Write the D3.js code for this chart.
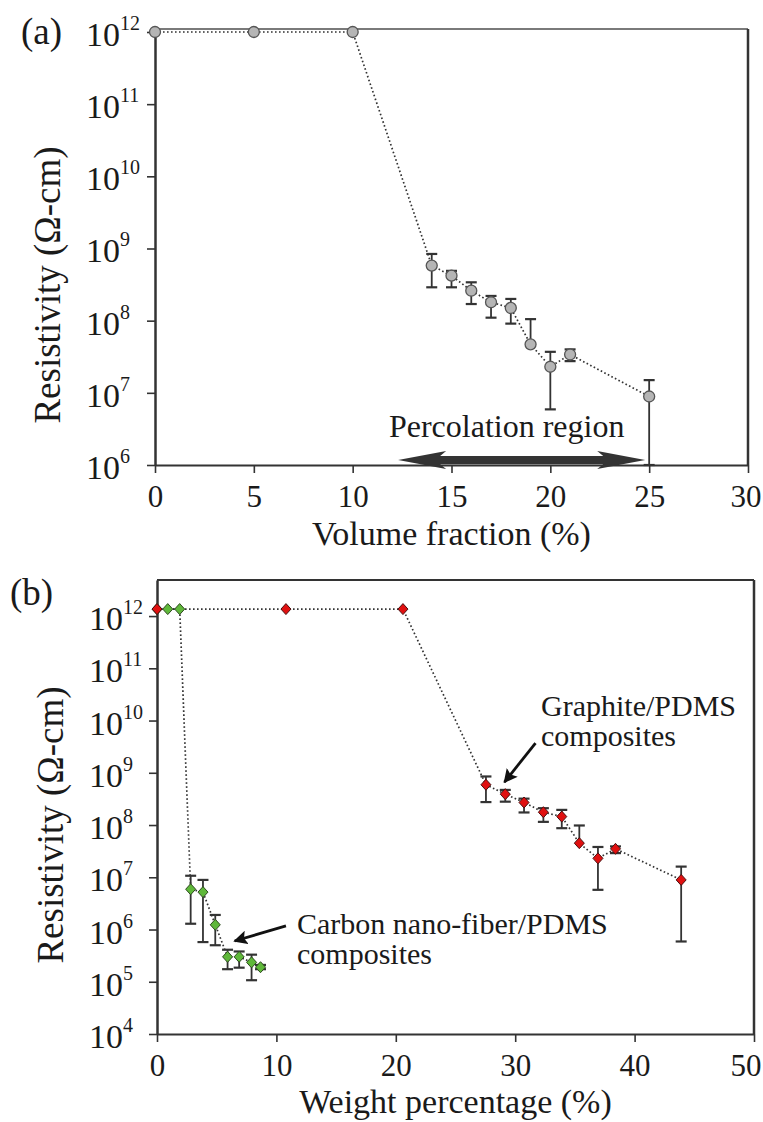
<!DOCTYPE html>
<html><head><meta charset="utf-8">
<script src="https://cdn.jsdelivr.net/npm/d3@7"></script>
<style>
body{margin:0;background:#fff}
svg{display:block}
text{font-family:"Liberation Serif","Times New Roman",serif;fill:#1a1a1a}
</style>
</head><body>
<svg id="c" width="763" height="1122"></svg>
<script>
// ---------- Panel (a): volume fraction ----------
const volFrac   = [0, 5, 10, 14, 15, 16, 17, 18, 19, 20, 21, 25];
const volRes    = [1e12, 1e12, 1e12, 5.8e8, 4.2e8, 2.6e8, 1.8e8, 1.5e8, 4.7e7, 2.3e7, 3.4e7, 8.9e6];
const volErrHi  = [null, null, null, 8.4e8, 4.9e8, 3.4e8, 2.2e8, 2.0e8, 1.05e8, 3.7e7, 4.0e7, 1.5e7];
const volErrLo  = [null, null, null, 2.9e8, 2.9e8, 1.7e8, 1.1e8, 9.1e7, null, 5.9e6, 2.75e7, 1e6];
const volXTicks = [0, 5, 10, 15, 20, 25, 30];
const volYTicks = [6, 7, 8, 9, 10, 11, 12];

// ---------- Panel (b): weight percentage ----------
const grWt     = [0, 10.8, 20.6, 27.55, 29.17, 30.74, 32.36, 33.9, 35.37, 36.93, 38.4, 43.9];
const grRes    = [1.36e12, 1.36e12, 1.36e12, 5.9e8, 3.9e8, 2.7e8, 1.76e8, 1.45e8, 4.5e7, 2.3e7, 3.5e7, 8.9e6];
const grErrHi  = [null, null, null, 8.5e8, 4.7e8, 3.2e8, 2.1e8, 1.95e8, 9.8e7, 3.8e7, 3.9e7, 1.6e7];
const grErrLo  = [null, null, null, 2.75e8, 2.8e8, 1.74e8, 1.15e8, 8.7e7, null, 5.75e6, 2.9e7, 5.9e5];

const cnfWt    = [0, 0.9, 1.9, 2.82, 3.85, 4.88, 5.91, 6.88, 7.92, 8.67];
const cnfRes   = [1.36e12, 1.36e12, 1.36e12, 5.9e6, 5.2e6, 1.23e6, 3.0e5, 3.0e5, 2.35e5, 1.9e5];
const cnfErrHi = [null, null, null, 1.07e7, 8.9e6, 1.9e6, 4.1e5, 3.8e5, 3.3e5, 2.1e5];
const cnfErrLo = [null, null, null, 1.29e6, 5.75e5, 5.0e5, 1.74e5, 1.86e5, 1.07e5, 1.74e5];

const wtXTicks = [0, 10, 20, 30, 40, 50];
const wtYTicks = [4, 5, 6, 7, 8, 9, 10, 11, 12];

const yTitle = "Resistivity (\u03A9-cm)";

const svg = d3.select("#c");
const FONT = '"Liberation Serif","Times New Roman",serif';
const W = 763;

function zip(xs, ys, hi, lo){ return xs.map((x,i)=>({x, y: ys[i], hi: hi[i], lo: lo[i]})); }

// custom diamond symbol
const diamond = { draw(ctx, size){ const r = Math.sqrt(size)/2; ctx.moveTo(0,-r*1.1); ctx.lineTo(r,0); ctx.lineTo(0,r*1.1); ctx.lineTo(-r,0); ctx.closePath(); } };

function drawPanel(cfg){
  const g = svg.append("g");
  const x = d3.scaleLinear().domain(cfg.xDomain).range(cfg.xRange);
  const y = d3.scaleLog().domain(cfg.yDomain).range(cfg.yRange);
  const [x0,x1] = cfg.xRange, [yb,yt] = cfg.yRange;

  // frame top & right
  g.append("line").attr("x1",x0).attr("x2",x1).attr("y1",yt).attr("y2",yt)
    .attr("stroke",cfg.topColor).attr("stroke-width",2);
  g.append("line").attr("x1",x1).attr("x2",x1).attr("y1",yt).attr("y2",yb)
    .attr("stroke","#333").attr("stroke-width",2.5);

  // x axis
  const xa = g.append("g").attr("transform",`translate(0,${yb})`)
    .call(d3.axisBottom(x).tickValues(cfg.xTicks).tickSize(8).tickSizeOuter(0).tickFormat(d3.format("d")));
  xa.select(".domain").attr("stroke","#333").attr("stroke-width",2);
  xa.selectAll(".tick line").attr("stroke","#333").attr("stroke-width",1.6);
  xa.selectAll(".tick text").attr("y",42).attr("dy",0).attr("font-size",31)
    .attr("font-family",FONT).attr("fill","#1a1a1a")
    .each(function(d){
      // keep the last label inside the picture
      const bb = this.getBBox(), px = x(d);
      if(px + bb.width/2 > W - 2) d3.select(this).attr("text-anchor","end").attr("x", W - 2 - px);
    });

  // y axis
  const ya = g.append("g").attr("transform",`translate(${x0},0)`)
    .call(d3.axisLeft(y).tickValues(cfg.yTicks.map(e=>Math.pow(10,e))).tickSize(8).tickSizeOuter(0).tickFormat(""));
  ya.select(".domain").attr("stroke","#333").attr("stroke-width",2.5);
  ya.selectAll(".tick line").attr("stroke","#333").attr("stroke-width",1.6);

  // y tick labels: 10^n
  cfg.yTicks.forEach(e=>{
    const t = g.append("text").attr("x",cfg.yLabelX).attr("y",y(Math.pow(10,e))+14)
      .attr("font-size",34);
    t.append("tspan").text("10");
    t.append("tspan").attr("dy",-16).attr("font-size",20).text(String(e));
  });

  // titles
  g.append("text").attr("x",(x0+x1)/2).attr("y",cfg.xTitleY).attr("text-anchor","middle")
    .attr("font-size",34).text(cfg.xTitle);
  g.append("text").attr("transform",`translate(${cfg.yTitleX},${cfg.yTitleC}) rotate(-90)`)
    .attr("text-anchor","middle").attr("font-size",37).text(yTitle);
  g.append("text").attr("x",cfg.tagX).attr("y",cfg.tagY).attr("font-size",37).text(cfg.tag);

  return {g,x,y};
}

function drawSeries(P, data){
  const {g,x,y} = P;
  const line = d3.line().x(d=>x(d.x)).y(d=>y(d.y));
  g.append("path").datum(data).attr("d",line).attr("fill","none")
    .attr("stroke","#333").attr("stroke-width",1.7).attr("stroke-dasharray","1.6 2.4");
}
function drawErr(P, data, cap){
  const {g,x,y} = P;
  const eg = g.append("g").attr("stroke","#333").attr("stroke-width",1.8);
  data.forEach(d=>{
    if(d.hi==null && d.lo==null) return;
    const top = d.hi!=null ? d.hi : d.y, bot = d.lo!=null ? d.lo : d.y;
    eg.append("line").attr("x1",x(d.x)).attr("x2",x(d.x)).attr("y1",y(top)).attr("y2",y(bot));
    if(d.hi!=null) eg.append("line").attr("x1",x(d.x)-cap).attr("x2",x(d.x)+cap).attr("y1",y(d.hi)).attr("y2",y(d.hi)).attr("stroke-width",2.2);
    if(d.lo!=null) eg.append("line").attr("x1",x(d.x)-cap).attr("x2",x(d.x)+cap).attr("y1",y(d.lo)).attr("y2",y(d.lo)).attr("stroke-width",2.2);
  });
}

// ----- Panel (a)
const A = drawPanel({
  xDomain:[0,30], xRange:[155,748], yDomain:[1e6,1.1e12], yRange:[465,29],
  xTicks:volXTicks, yTicks:volYTicks, topColor:"#7a7a7a",
  yLabelX:86, xTitle:"Volume fraction (%)", xTitleY:545,
  yTitleX:60, yTitleC:285, tag:"(a)", tagX:21, tagY:44
});
const volData = zip(volFrac, volRes, volErrHi, volErrLo);
drawSeries(A, volData);
drawErr(A, volData, 5.5);
A.g.append("g").selectAll("circle").data(volData).join("circle")
  .attr("cx",d=>A.x(d.x)).attr("cy",d=>A.y(d.y)).attr("r",5.5)
  .attr("fill","#b5b5b5").attr("stroke","#555").attr("stroke-width",1.3);

// Percolation region arrow (double headed)
{
  const xl = A.x(12.3), xr = A.x(24.8), yc = A.y(1.17e6);
  const hl = 48, hw = 9, sw = 4.2;
  const pts = [[xl,yc],[xl+hl,yc-hw],[xl+hl-6,yc-sw],[xr-hl+6,yc-sw],[xr-hl,yc-hw],[xr,yc],
               [xr-hl,yc+hw],[xr-hl+6,yc+sw],[xl+hl-6,yc+sw],[xl+hl,yc+hw]];
  A.g.append("path").attr("d","M"+pts.map(p=>p.join(",")).join("L")+"Z").attr("fill","#333");
  A.g.append("text").attr("x",(xl+xr)/2-15).attr("y",yc-23).attr("text-anchor","middle")
    .attr("font-size",32).text("Percolation region");
}

// ----- Panel (b)
const B = drawPanel({
  xDomain:[0,50], xRange:[157,754], yDomain:[1e4,4.9e12], yRange:[1034,580],
  xTicks:wtXTicks, yTicks:wtYTicks, topColor:"#333",
  yLabelX:89, xTitle:"Weight percentage (%)", xTitleY:1113,
  yTitleX:63, yTitleC:825, tag:"(b)", tagX:10, tagY:605
});
const grData = zip(grWt, grRes, grErrHi, grErrLo);
const cnfData = zip(cnfWt, cnfRes, cnfErrHi, cnfErrLo);
drawSeries(B, cnfData);
drawSeries(B, grData);
drawErr(B, cnfData, 5.5);
drawErr(B, grData, 5.5);
const sym = d3.symbol().type(diamond).size(100);
B.g.append("g").selectAll("path").data(cnfData).join("path")
  .attr("transform",d=>`translate(${B.x(d.x)},${B.y(d.y)})`).attr("d",sym)
  .attr("fill","#5fb83a").attr("stroke","#2d4a1e").attr("stroke-width",1);
B.g.append("g").selectAll("path").data(grData).join("path")
  .attr("transform",d=>`translate(${B.x(d.x)},${B.y(d.y)})`).attr("d",sym)
  .attr("fill","#e01010").attr("stroke","#4a1010").attr("stroke-width",1);

// annotation arrows
svg.append("defs").append("marker").attr("id","ah").attr("viewBox","0 0 10 10")
  .attr("refX",9).attr("refY",5).attr("markerWidth",5).attr("markerHeight",5)
  .attr("markerUnits","strokeWidth").attr("orient","auto")
  .append("path").attr("d","M0,0L10,5L0,10L2,5Z").attr("fill","#111");

function annot(P, from, to, lines, tx, ty){
  P.g.append("line").attr("x1",P.x(from[0])).attr("y1",P.y(from[1]))
    .attr("x2",P.x(to[0])).attr("y2",P.y(to[1]))
    .attr("stroke","#111").attr("stroke-width",2.8).attr("marker-end","url(#ah)");
  const t = P.g.append("text").attr("font-size",30);
  lines.forEach((s,i)=>t.append("tspan").attr("x",tx).attr("y",ty+i*30).text(s));
}
annot(B, [31.7, Math.pow(10,9.57)], [29.1, Math.pow(10,8.82)], ["Graphite/PDMS","composites"], 541, 716);
annot(B, [10.8, Math.pow(10,6.07)], [6.5, Math.pow(10,5.78)], ["Carbon nano-fiber/PDMS","composites"], 297, 934);
</script>
</body></html>
